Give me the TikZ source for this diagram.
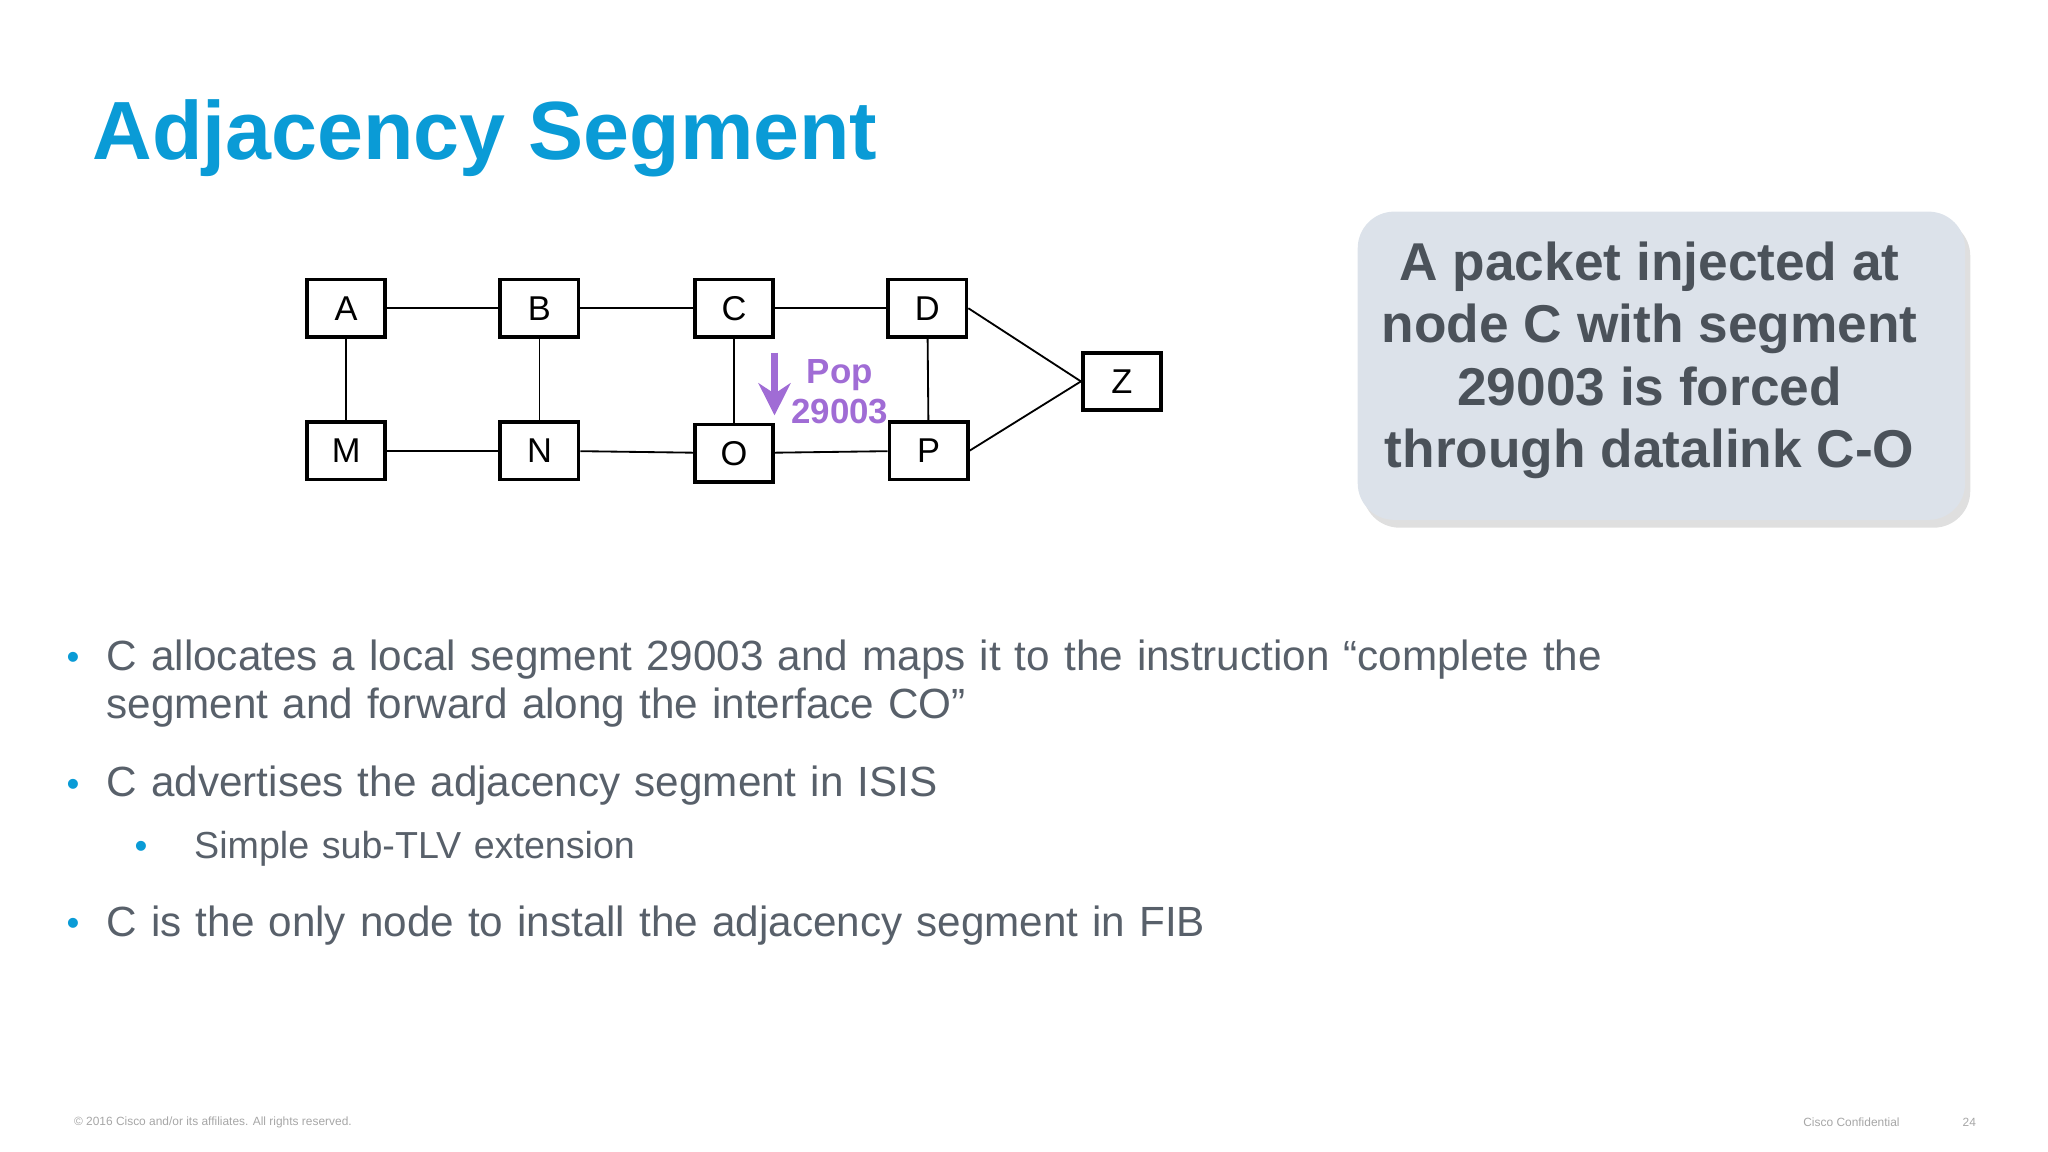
\documentclass[tikz,border=0pt]{standalone}
\usepackage{fontspec}
\setmainfont{Liberation Sans}
\usetikzlibrary{shadows,arrows.meta}
\definecolor{ttl}{HTML}{0A9BD6}
\definecolor{txt}{HTML}{58606A}
\definecolor{pur}{HTML}{A06CD5}
\definecolor{cbox}{HTML}{DCE2EA}
\begin{document}
\begin{tikzpicture}[x=0.1mm,y=-0.1mm,
  nd/.style={draw,thick,minimum width=60*0.1mm,minimum height=44*0.1mm,inner sep=0pt,font=\fontsize{7.5}{9}\selectfont},
  ln/.style={thin},
  bul/.style={anchor=north west,text=txt,font=\fontsize{9.2}{10.6}\selectfont,inner sep=0pt,align=left,text width=1180*0.1mm},
  dot/.style={text=ttl,font=\fontsize{8}{9}\selectfont,inner sep=0pt}]
\useasboundingbox (0,0) rectangle (1568,882);
\node[anchor=west,text=ttl,font=\fontsize{18}{20}\bfseries\selectfont,inner sep=0pt] (title) at (70,106) {Adjacency Segment};
\node[nd] (A) at (265,236) {A};
\node[nd] (B) at (413,236) {B};
\node[nd] (C) at (562,236) {C};
\node[nd] (D) at (710,236) {D};
\node[nd] (M) at (265,345) {M};
\node[nd] (N) at (413,345) {N};
\node[nd] (O) at (562,347) {O};
\node[nd] (P) at (711,345) {P};
\node[nd] (Z) at (859,292) {Z};
\draw[ln] (A)--(B); \draw[ln] (B)--(C); \draw[ln] (C)--(D);
\draw[ln] (M)--(N); \draw[ln] (N)--(O); \draw[ln] (O)--(P);
\draw[ln] (A)--(M); \draw[ln] (B)--(N); \draw[ln] (C)--(O); \draw[ln] (D)--(P);
\draw[ln] (D.east)--(Z.west); \draw[ln] (P.east)--(Z.west);
\coordinate (a1) at (593,270); \coordinate (a2) at (593,318);
\draw[pur,line width=1.4pt,-{Stealth[length=7pt,width=7pt]}] (a1)--(a2);
\node[text=pur,font=\fontsize{7.6}{8.8}\bfseries\selectfont,align=center,inner sep=0pt] (pop) at (643,300) {Pop\\29003};
\node[draw=none,fill=cbox,rounded corners=28*0.1mm,minimum width=465*0.1mm,minimum height=236*0.1mm,drop shadow={opacity=0.25,shadow xshift=0.4mm,shadow yshift=-0.6mm}] (box) at (1272,280) {};
\node[text=txt!85!black,font=\fontsize{11.6}{13.6}\bfseries\selectfont,align=center] (boxt) at (1263,276) {A packet injected at\\node C with segment\\29003 is forced\\through datalink C-O};
\node[dot] (d1) at (56,506) {•};
\node[bul] (b1) at (81,489) {C allocates a local segment 29003 and maps it to the instruction “complete the segment and forward along the interface CO”};
\node[dot] (d2) at (56,603) {•};
\node[bul] (b2) at (81,586) {C advertises the adjacency segment in ISIS};
\node[dot] (d3) at (108,651) {•};
\node[bul,font=\fontsize{8.2}{9.5}\selectfont] (b3) at (148,636) {Simple sub-TLV extension};
\node[dot] (d4) at (56,710) {•};
\node[bul] (b4) at (81,693) {C is the only node to install the adjacency segment in FIB};
\node[anchor=west,text=gray!70,font=\fontsize{2.6}{3}\selectfont,inner sep=0pt] (f1) at (56,859) {© 2016 Cisco and/or its affiliates. All rights reserved.};
\node[anchor=west,text=gray!70,font=\fontsize{2.6}{3}\selectfont,inner sep=0pt] (f2) at (1380,859) {Cisco Confidential};
\node[anchor=west,text=gray!70,font=\fontsize{2.6}{3}\selectfont,inner sep=0pt] (f3) at (1502,859) {24};
\end{tikzpicture}
\end{document}
